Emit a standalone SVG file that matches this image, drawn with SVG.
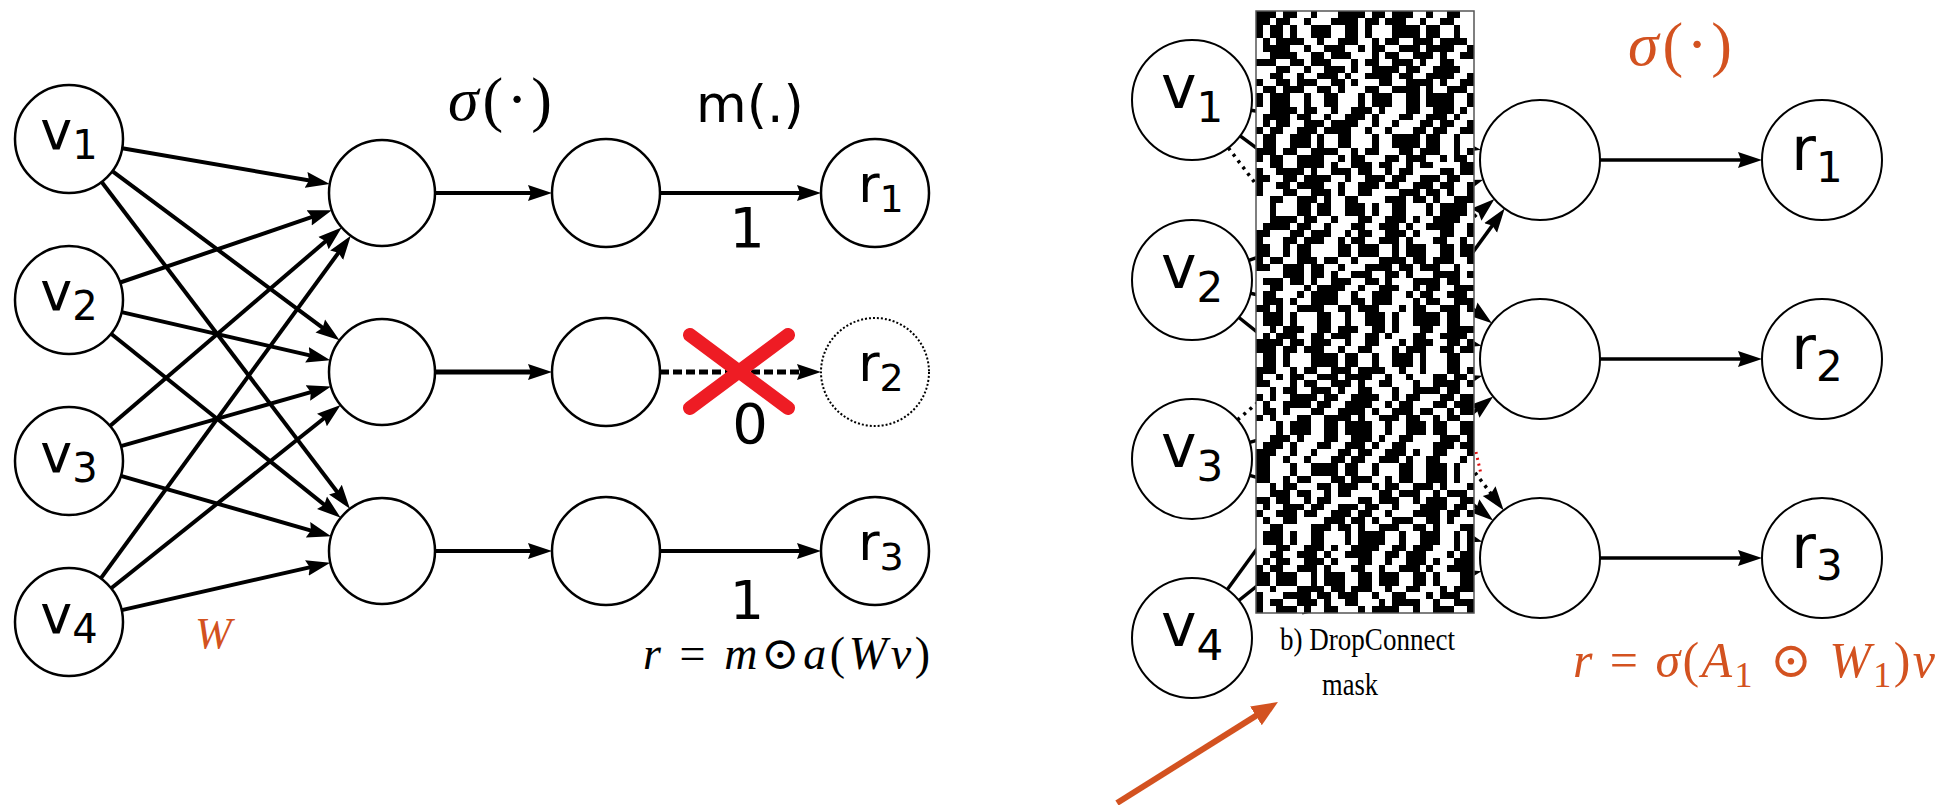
<svg xmlns="http://www.w3.org/2000/svg" width="1949" height="805" viewBox="0 0 1949 805">
<style>
.n{fill:#fff;stroke:#000;stroke-width:2.5}
.nr{fill:#fff;stroke:#000;stroke-width:2}
.lb{font-family:"DejaVu Sans",sans-serif;fill:#000}
.e{stroke:#000;stroke-width:4;fill:none;marker-end:url(#ah)}
.er{stroke:#000;stroke-width:3.5;fill:none;marker-end:url(#ah)}
.dot{stroke-dasharray:3 5}
.or{fill:#d35220}
.ser{font-family:"Liberation Serif","DejaVu Serif",serif}
.it{font-style:italic}
.mk path{stroke:#000;stroke-width:1;fill:none}
.a{stroke-dasharray:3 1 2 2 1 3 4 1 2 1 3 2 1 2 2 3 1 1 3 2 2 1 4 2 1 2 3 1 2 2}
.b{stroke-dasharray:2 2 3 1 1 2 4 2 2 1 3 3 1 1 2 2 3 1 1 2 2 3 1 2 4 1 2 2 1 3}
.c{stroke-dasharray:1 3 2 2 3 1 1 2 2 4 3 1 2 1 1 2 3 2 2 1 1 3 4 1 2 2 1 2 3 1}
.d{stroke-dasharray:4 2 1 1 2 3 2 1 3 2 1 1 2 2 3 1 1 3 2 2 1 2 3 1 1 2 4 1 2 2}
.f{stroke-dasharray:2 1 3 2 2 1 1 3 2 2 4 1 1 2 3 1 2 2 1 1 2 4 2 1 3 2 1 1 3 2}
.g{stroke-dasharray:3 2 1 1 2 2 3 1 4 2 1 2 1 3 2 1 2 2 3 1 1 2 2 3 1 1 4 2 1 2}
</style>
<defs>
<marker id="ah" markerUnits="userSpaceOnUse" markerWidth="26" markerHeight="18" viewBox="0 0 26 18" refX="14" refY="9" orient="auto"><path d="M0 1L24 9L0 17L3 9Z" fill="#000"/></marker>
<marker id="oa" markerUnits="userSpaceOnUse" markerWidth="28" markerHeight="24" viewBox="0 0 28 24" refX="14" refY="12" orient="auto"><path d="M0 1L26 12L0 23Z" fill="#d35220"/></marker>
</defs>

<g id="connectors">
<path class="e" d="M122.2 148.2L319.9 182.3"/>
<path class="e" d="M112.3 171.2L331.5 334.4"/>
<path class="e" d="M101.7 182L343.9 500.8"/>
<path class="e" d="M120.1 282.5L322.4 213.4"/>
<path class="e" d="M121.6 312.1L320.6 357.9"/>
<path class="e" d="M111.1 333.8L332.9 511.6"/>
<path class="e" d="M110 425.9L334.1 234"/>
<path class="e" d="M120.9 446.2L321.4 389.2"/>
<path class="e" d="M120.9 475.9L321.5 533.6"/>
<path class="e" d="M100.8 578.4L344.9 243.9"/>
<path class="e" d="M111.2 588.3L332.8 411.3"/>
<path class="e" d="M121.7 610.1L320.5 564.9"/>
<path class="e" d="M435 193H542"/>
<path class="e" style="stroke-width:5" d="M435 372H542"/>
<path class="e" d="M435 551H542"/>
<path class="e" d="M660 193H811"/>
<path class="e" style="stroke-width:5;stroke-dasharray:9 4" d="M660 372H811"/>
<path class="e" d="M660 551H811"/>
<path class="er" d="M1251.1 110.2L1471 148.1"/>
<path class="er" d="M1240.1 135.8L1483.9 317.2"/>
<path class="er dot" d="M1228.3 147.8L1497.6 502.3"/>
<path class="er" d="M1248.7 260.4L1473.8 182.9"/>
<path class="er" d="M1250.5 293.3L1471.8 343.5"/>
<path class="er" d="M1238.9 317.5L1485.3 514.3"/>
<path class="er dot" d="M1237.5 419.9L1486.9 205.6"/>
<path class="er" d="M1249.7 442.4L1472.7 378.4"/>
<path class="er" d="M1249.7 475.4L1472.7 538.9"/>
<path class="er" d="M1227.3 589.5L1498.8 216.6"/>
<path class="er" d="M1238.8 600.5L1485.4 402.8"/>
<path class="er" d="M1302 612.8L1471.8 573.6"/>
<path class="er" d="M1600 160H1752"/>
<path class="er" d="M1600 359H1752"/>
<path class="er" d="M1600 558H1752"/>
<path d="M1476 452L1481 474" stroke="#e01010" stroke-width="3" stroke-dasharray="2 4" fill="none"/>
<path d="M1117 803L1267.8 708.4" stroke="#d35220" stroke-width="6" fill="none" marker-end="url(#oa)"/>
</g>

<g id="v1"><circle class="n" cx="69" cy="139" r="54"/><text class="lb" x="69" y="149" font-size="54" text-anchor="middle">v<tspan font-size="40" dy="10">1</tspan></text></g>
<g id="v2"><circle class="n" cx="69" cy="300" r="54"/><text class="lb" x="69" y="310" font-size="54" text-anchor="middle">v<tspan font-size="40" dy="10">2</tspan></text></g>
<g id="v3"><circle class="n" cx="69" cy="461" r="54"/><text class="lb" x="69" y="472" font-size="54" text-anchor="middle">v<tspan font-size="40" dy="10">3</tspan></text></g>
<g id="v4"><circle class="n" cx="69" cy="622" r="54"/><text class="lb" x="69" y="633" font-size="54" text-anchor="middle">v<tspan font-size="40" dy="10">4</tspan></text></g>
<g id="h1"><circle class="n" cx="382" cy="193" r="53"/></g>
<g id="h2"><circle class="n" cx="382" cy="372" r="53"/></g>
<g id="h3"><circle class="n" cx="382" cy="551" r="53"/></g>
<g id="a1"><circle class="n" cx="606" cy="193" r="54"/></g>
<g id="a2"><circle class="n" cx="606" cy="372" r="54"/></g>
<g id="a3"><circle class="n" cx="606" cy="551" r="54"/></g>
<g id="r1"><circle class="n" cx="875" cy="193" r="54"/><text class="lb" x="881" y="202" font-size="52" text-anchor="middle">r<tspan font-size="38" dy="10">1</tspan></text></g>
<g id="r2"><circle class="n" cx="875" cy="372" r="54" style="stroke-width:2;stroke-dasharray:2 2"/><text class="lb" x="881" y="381" font-size="52" text-anchor="middle">r<tspan font-size="38" dy="10">2</tspan></text></g>
<g id="r3"><circle class="n" cx="875" cy="551" r="54"/><text class="lb" x="881" y="560" font-size="52" text-anchor="middle">r<tspan font-size="38" dy="10">3</tspan></text></g>

<g id="labels-left">
<text class="ser" x="448" y="120" font-size="62" textLength="104" lengthAdjust="spacing"><tspan class="it">σ</tspan>(·)</text>
<text class="lb" x="696" y="122" font-size="52">m(.)</text>
<text class="lb" x="747" y="247" font-size="56" text-anchor="middle">1</text>
<text class="lb" x="750" y="443" font-size="56" text-anchor="middle">0</text>
<text class="lb" x="747" y="619" font-size="54" text-anchor="middle">1</text>
<text class="ser or it" x="195" y="648" font-size="44">W</text>
<text class="ser" x="643" y="669" font-size="46" textLength="287" lengthAdjust="spacing"><tspan class="it">r</tspan> = <tspan class="it">m</tspan>⊙<tspan class="it">a</tspan>(<tspan class="it">Wv</tspan>)</text>
</g>
<g id="drop-x" stroke="#ee1c24" stroke-width="14" stroke-linecap="round"><path d="M690 335L788 408M788 335L690 408"/></g>

<g id="rv1"><circle class="nr" cx="1192" cy="100" r="60"/><text class="lb" x="1192" y="108" font-size="60" text-anchor="middle">v<tspan font-size="42" dy="14">1</tspan></text></g>
<g id="rv2"><circle class="nr" cx="1192" cy="280" r="60"/><text class="lb" x="1192" y="288" font-size="60" text-anchor="middle">v<tspan font-size="42" dy="14">2</tspan></text></g>
<g id="rv3"><circle class="nr" cx="1192" cy="459" r="60"/><text class="lb" x="1192" y="467" font-size="60" text-anchor="middle">v<tspan font-size="42" dy="14">3</tspan></text></g>
<g id="rv4"><circle class="nr" cx="1192" cy="638" r="60"/><text class="lb" x="1192" y="646" font-size="60" text-anchor="middle">v<tspan font-size="42" dy="14">4</tspan></text></g>
<g id="rh1"><circle class="nr" cx="1540" cy="160" r="60"/></g>
<g id="rh2"><circle class="nr" cx="1540" cy="359" r="60"/></g>
<g id="rh3"><circle class="nr" cx="1540" cy="558" r="60"/></g>
<g id="rr1"><circle class="nr" cx="1822" cy="160" r="60"/><text class="lb" x="1817" y="170" font-size="60" text-anchor="middle">r<tspan font-size="42" dy="12">1</tspan></text></g>
<g id="rr2"><circle class="nr" cx="1822" cy="359" r="60"/><text class="lb" x="1817" y="369" font-size="60" text-anchor="middle">r<tspan font-size="42" dy="12">2</tspan></text></g>
<g id="rr3"><circle class="nr" cx="1822" cy="558" r="60"/><text class="lb" x="1817" y="568" font-size="60" text-anchor="middle">r<tspan font-size="42" dy="12">3</tspan></text></g>

<g id="mask">
<rect x="1256" y="11" width="218" height="602" fill="#fff"/>
<g class="mk" transform="translate(1256 11) scale(6.8125 6.841)" shape-rendering="crispEdges">
<path class="a" d="M0 0.5h32" stroke-dashoffset="0"/>
<path class="a" d="M0 1.5h32" stroke-dashoffset="1"/>
<path class="c" d="M0 2.5h32" stroke-dashoffset="23"/>
<path class="c" d="M0 3.5h32" stroke-dashoffset="23"/>
<path class="g" d="M0 4.5h32" stroke-dashoffset="46"/>
<path class="g" d="M0 5.5h32" stroke-dashoffset="48"/>
<path class="b" d="M0 6.5h32" stroke-dashoffset="9"/>
<path class="b" d="M0 7.5h32" stroke-dashoffset="12"/>
<path class="d" d="M0 8.5h32" stroke-dashoffset="32"/>
<path class="d" d="M0 9.5h32" stroke-dashoffset="33"/>
<path class="f" d="M0 10.5h32" stroke-dashoffset="55"/>
<path class="f" d="M0 11.5h32" stroke-dashoffset="57"/>
<path class="a" d="M0 12.5h32" stroke-dashoffset="18"/>
<path class="a" d="M0 13.5h32" stroke-dashoffset="18"/>
<path class="c" d="M0 14.5h32" stroke-dashoffset="41"/>
<path class="c" d="M0 15.5h32" stroke-dashoffset="42"/>
<path class="g" d="M0 16.5h32" stroke-dashoffset="4"/>
<path class="g" d="M0 17.5h32" stroke-dashoffset="5"/>
<path class="b" d="M0 18.5h32" stroke-dashoffset="27"/>
<path class="b" d="M0 19.5h32" stroke-dashoffset="27"/>
<path class="d" d="M0 20.5h32" stroke-dashoffset="50"/>
<path class="d" d="M0 21.5h32" stroke-dashoffset="52"/>
<path class="f" d="M0 22.5h32" stroke-dashoffset="13"/>
<path class="f" d="M0 23.5h32" stroke-dashoffset="16"/>
<path class="a" d="M0 24.5h32" stroke-dashoffset="36"/>
<path class="a" d="M0 25.5h32" stroke-dashoffset="37"/>
<path class="c" d="M0 26.5h32" stroke-dashoffset="59"/>
<path class="c" d="M0 27.5h32" stroke-dashoffset="61"/>
<path class="g" d="M0 28.5h32" stroke-dashoffset="22"/>
<path class="g" d="M0 29.5h32" stroke-dashoffset="22"/>
<path class="b" d="M0 30.5h32" stroke-dashoffset="45"/>
<path class="b" d="M0 31.5h32" stroke-dashoffset="46"/>
<path class="d" d="M0 32.5h32" stroke-dashoffset="8"/>
<path class="d" d="M0 33.5h32" stroke-dashoffset="9"/>
<path class="f" d="M0 34.5h32" stroke-dashoffset="31"/>
<path class="f" d="M0 35.5h32" stroke-dashoffset="31"/>
<path class="a" d="M0 36.5h32" stroke-dashoffset="54"/>
<path class="a" d="M0 37.5h32" stroke-dashoffset="56"/>
<path class="c" d="M0 38.5h32" stroke-dashoffset="17"/>
<path class="c" d="M0 39.5h32" stroke-dashoffset="20"/>
<path class="g" d="M0 40.5h32" stroke-dashoffset="40"/>
<path class="g" d="M0 41.5h32" stroke-dashoffset="41"/>
<path class="b" d="M0 42.5h32" stroke-dashoffset="3"/>
<path class="b" d="M0 43.5h32" stroke-dashoffset="5"/>
<path class="d" d="M0 44.5h32" stroke-dashoffset="26"/>
<path class="d" d="M0 45.5h32" stroke-dashoffset="26"/>
<path class="f" d="M0 46.5h32" stroke-dashoffset="49"/>
<path class="f" d="M0 47.5h32" stroke-dashoffset="50"/>
<path class="a" d="M0 48.5h32" stroke-dashoffset="12"/>
<path class="a" d="M0 49.5h32" stroke-dashoffset="13"/>
<path class="c" d="M0 50.5h32" stroke-dashoffset="35"/>
<path class="c" d="M0 51.5h32" stroke-dashoffset="35"/>
<path class="g" d="M0 52.5h32" stroke-dashoffset="58"/>
<path class="g" d="M0 53.5h32" stroke-dashoffset="60"/>
<path class="b" d="M0 54.5h32" stroke-dashoffset="21"/>
<path class="b" d="M0 55.5h32" stroke-dashoffset="24"/>
<path class="d" d="M0 56.5h32" stroke-dashoffset="44"/>
<path class="d" d="M0 57.5h32" stroke-dashoffset="45"/>
<path class="f" d="M0 58.5h32" stroke-dashoffset="7"/>
<path class="f" d="M0 59.5h32" stroke-dashoffset="9"/>
<path class="a" d="M0 60.5h32" stroke-dashoffset="30"/>
<path class="a" d="M0 61.5h32" stroke-dashoffset="30"/>
<path class="c" d="M0 62.5h32" stroke-dashoffset="53"/>
<path class="c" d="M0 63.5h32" stroke-dashoffset="54"/>
<path class="g" d="M0 64.5h32" stroke-dashoffset="16"/>
<path class="g" d="M0 65.5h32" stroke-dashoffset="17"/>
<path class="b" d="M0 66.5h32" stroke-dashoffset="39"/>
<path class="b" d="M0 67.5h32" stroke-dashoffset="39"/>
<path class="d" d="M0 68.5h32" stroke-dashoffset="2"/>
<path class="d" d="M0 69.5h32" stroke-dashoffset="4"/>
<path class="f" d="M0 70.5h32" stroke-dashoffset="25"/>
<path class="f" d="M0 71.5h32" stroke-dashoffset="28"/>
<path class="a" d="M0 72.5h32" stroke-dashoffset="48"/>
<path class="a" d="M0 73.5h32" stroke-dashoffset="49"/>
<path class="c" d="M0 74.5h32" stroke-dashoffset="11"/>
<path class="c" d="M0 75.5h32" stroke-dashoffset="13"/>
<path class="g" d="M0 76.5h32" stroke-dashoffset="34"/>
<path class="g" d="M0 77.5h32" stroke-dashoffset="34"/>
<path class="b" d="M0 78.5h32" stroke-dashoffset="57"/>
<path class="b" d="M0 79.5h32" stroke-dashoffset="58"/>
<path class="d" d="M0 80.5h32" stroke-dashoffset="20"/>
<path class="d" d="M0 81.5h32" stroke-dashoffset="21"/>
<path class="f" d="M0 82.5h32" stroke-dashoffset="43"/>
<path class="f" d="M0 83.5h32" stroke-dashoffset="43"/>
<path class="a" d="M0 84.5h32" stroke-dashoffset="6"/>
<path class="a" d="M0 85.5h32" stroke-dashoffset="8"/>
<path class="g" d="M0 86.5h32" stroke-dashoffset="29"/>
<path class="g" d="M0 87.5h32" stroke-dashoffset="32"/>
</g>
<rect x="1256" y="11" width="218" height="602" fill="none" stroke="#555" stroke-width="1.5"/>
<text class="ser" x="1280" y="650" font-size="31" textLength="175" lengthAdjust="spacingAndGlyphs">b) DropConnect</text>
<text class="ser" x="1322" y="695" font-size="31" textLength="56" lengthAdjust="spacingAndGlyphs">mask</text>
</g>

<g id="labels-right">
<text class="ser or" x="1628" y="65" font-size="62" textLength="104" lengthAdjust="spacing"><tspan class="it">σ</tspan>(·)</text>
<text class="ser or" x="1573" y="677" font-size="50" textLength="362" lengthAdjust="spacing"><tspan class="it">r</tspan> = <tspan class="it">σ</tspan>(<tspan class="it">A</tspan><tspan font-size="36" dy="10">1</tspan><tspan dy="-10"> ⊙ </tspan><tspan class="it">W</tspan><tspan font-size="36" dy="10">1</tspan><tspan dy="-10">)</tspan><tspan class="it">v</tspan></text>
</g>
</svg>
